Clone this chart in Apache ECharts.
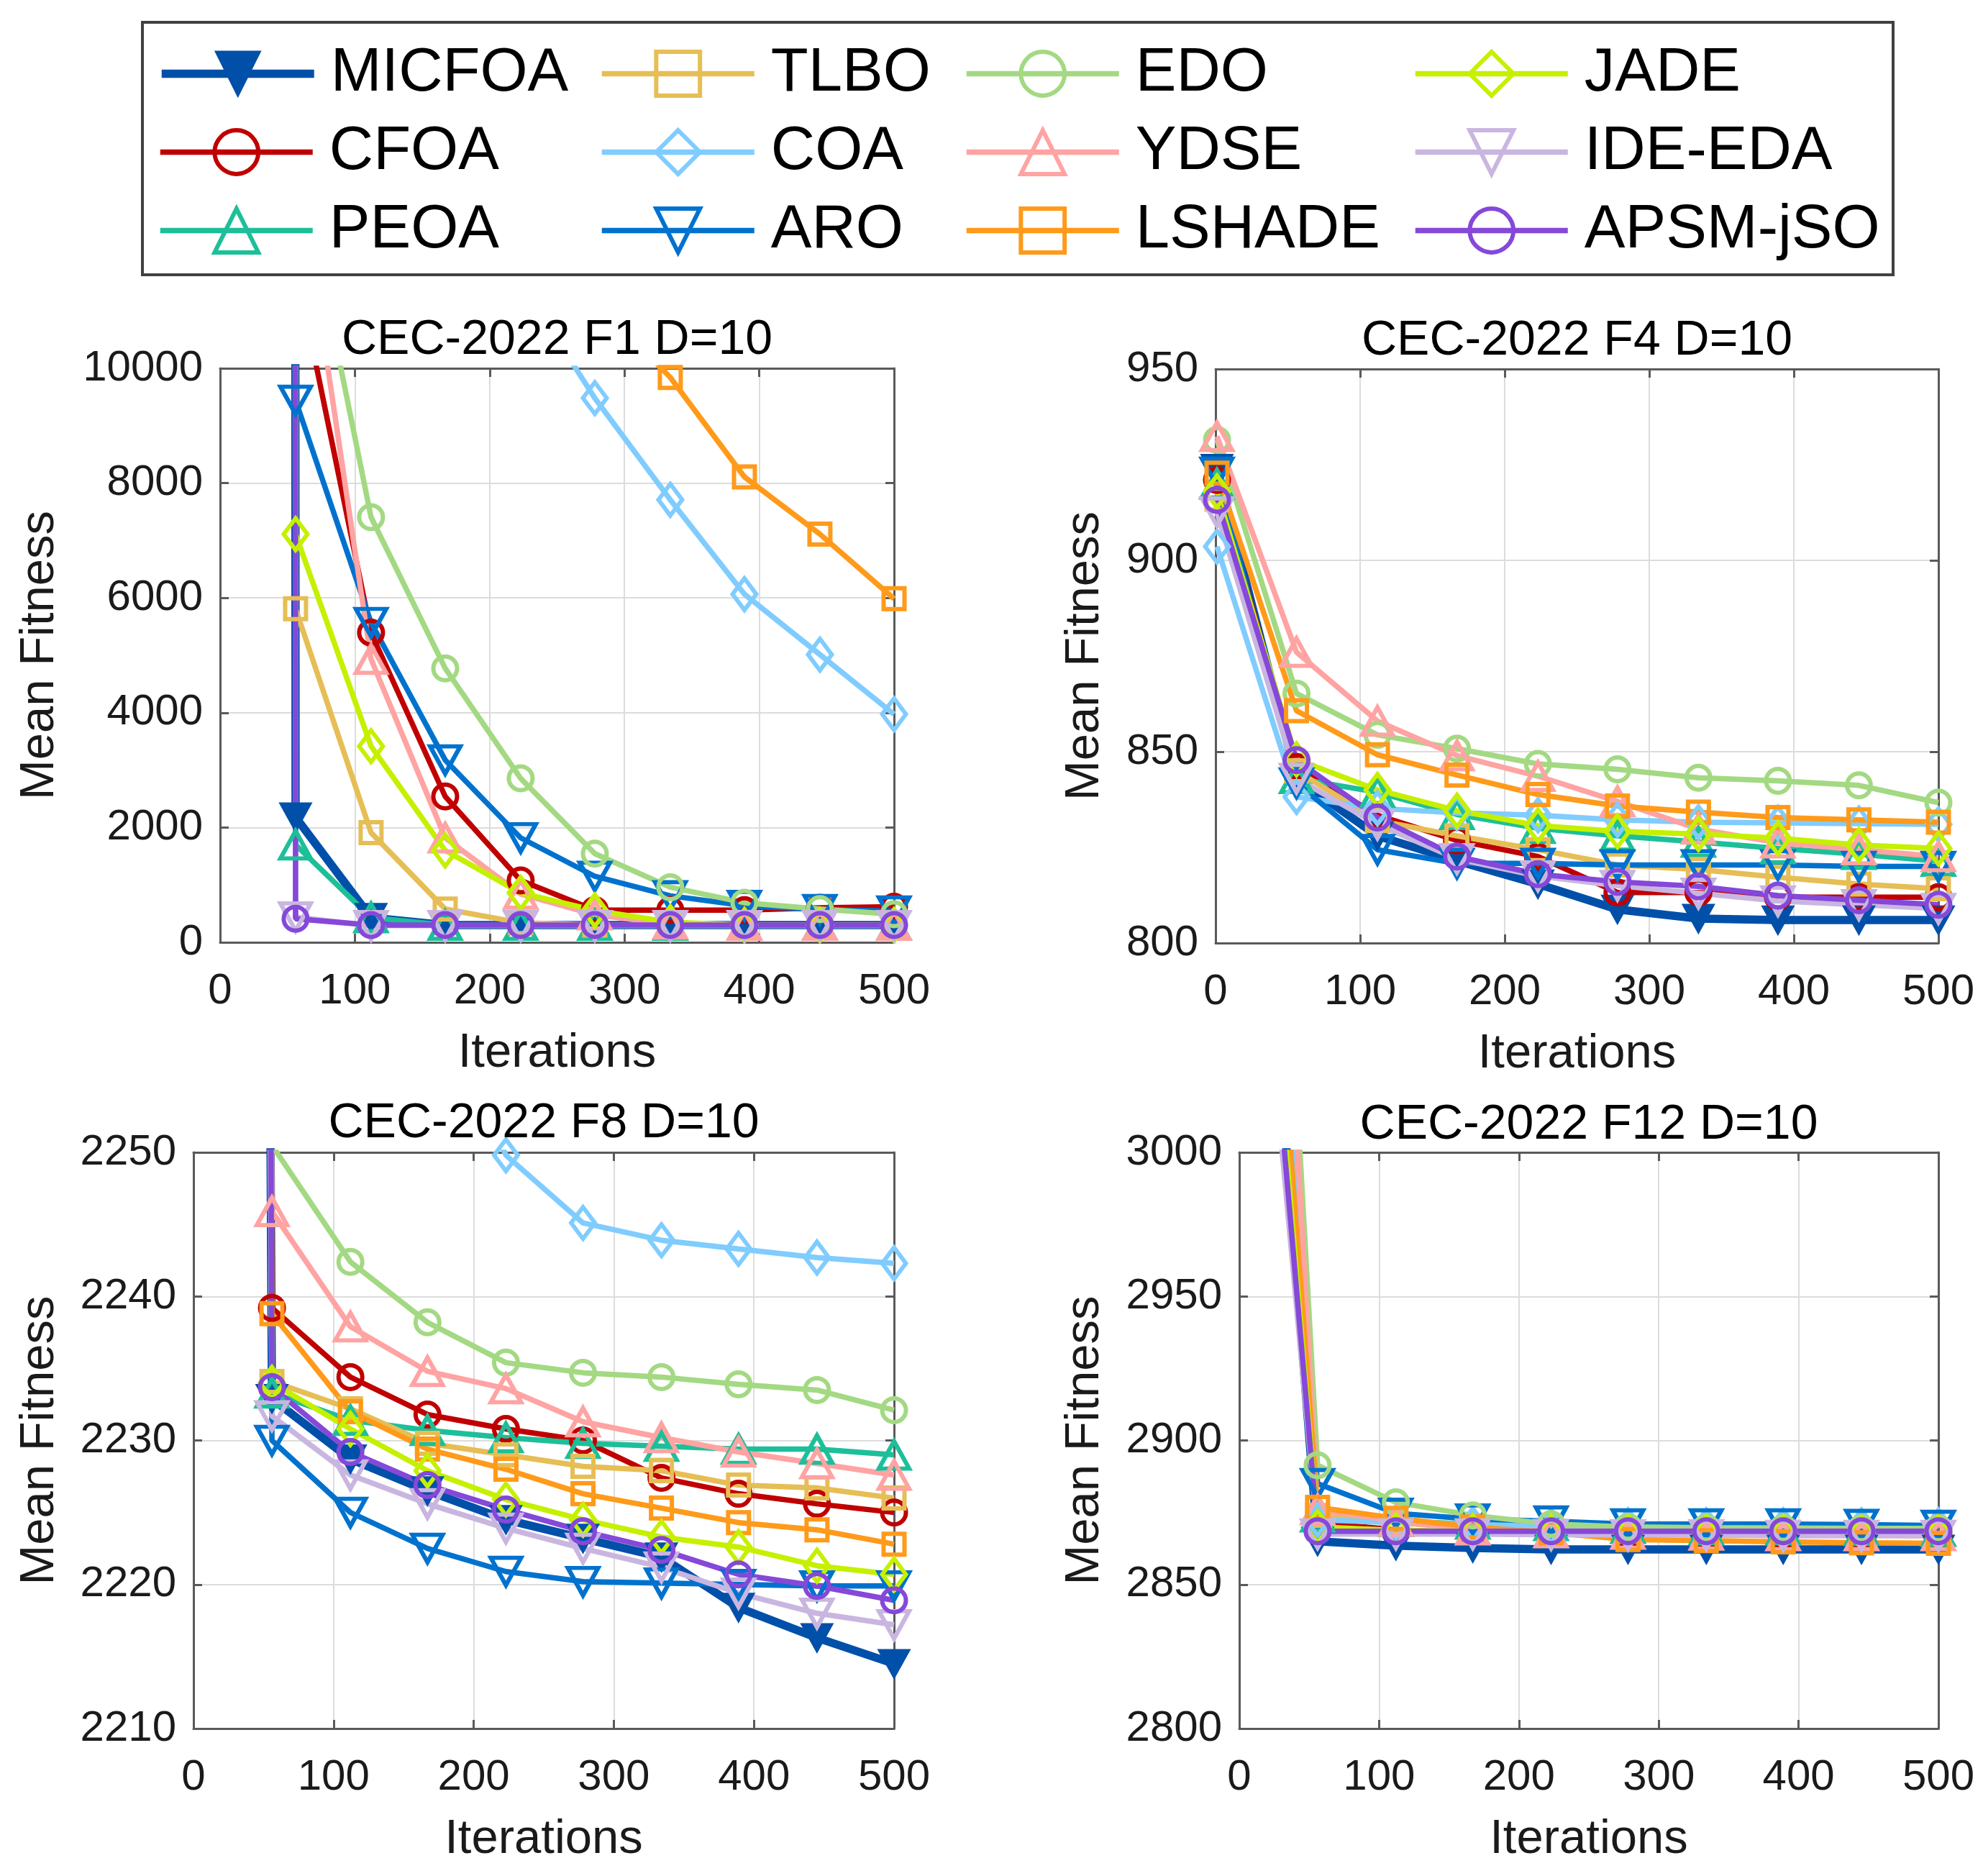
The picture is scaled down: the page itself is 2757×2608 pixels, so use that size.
<!DOCTYPE html>
<html><head><meta charset="utf-8">
<script src="https://cdn.jsdelivr.net/npm/echarts@6/dist/echarts.min.js"></script>
<style>html,body{margin:0;padding:0;background:#fff}#c{width:2757px;height:2608px}</style>
</head><body><div id="c"></div>
<script>
// ---------------- data ----------------
const names = ['MICFOA','CFOA','PEOA','TLBO','COA','ARO','EDO','YDSE','LSHADE','JADE','IDE-EDA','APSM-jSO'];
const iters = [1, 56, 112, 167, 223, 278, 334, 389, 445, 500];
const xTicks = [0, 100, 200, 300, 400, 500];

// CEC-2022 F1 (order as names)
const F1 = [
  [2.6e6, 2180, 430, 300, 300, 300, 300, 300, 300, 300],
  [3.1e6, 11800, 5395, 2540, 1077, 560, 560, 560, 600, 620],
  [2.4e6, 1700, 430, 300, 300, 300, 300, 300, 300, 300],
  [2.9e6, 5810, 1910, 580, 340, 300, 300, 300, 300, 300],
  [3.4e6, 20500, 16300, 13700, 11500, 9481, 7709, 6065, 5012, 3974],
  [2.8e6, 9441, 5570, 3176, 1820, 1150, 810, 640, 570, 545],
  [3.3e6, 13900, 7406, 4772, 2857, 1545, 960, 690, 580, 490],
  [3.2e6, 13800, 4932, 1820, 840, 480, 320, 300, 300, 300],
  [3.6e6, 20000, 16500, 14000, 12300, 11200, 9840, 8109, 7111, 5986],
  [3.0e6, 7111, 3416, 1600, 860, 555, 350, 300, 300, 300],
  [2.7e6, 440, 290, 290, 290, 290, 290, 290, 290, 290],
  [3.5e6, 410, 300, 300, 300, 300, 300, 300, 300, 300]
];
// CEC-2022 F4
const F4 = [
  [924, 843, 828, 821.5, 815.4, 808.8, 806.4, 806, 806, 806],
  [921, 846, 833.4, 826.8, 822.6, 813.2, 813.2, 812, 812, 812],
  [920, 843, 839.4, 833.6, 830, 828, 826.4, 824.7, 823.2, 821.4],
  [916, 845, 832, 828, 824.4, 820.4, 819.2, 817.2, 815.4, 814.2],
  [903.6, 838.2, 835.2, 834, 833.4, 832.2, 831.6, 831.4, 831.2, 831],
  [923, 841.8, 824.4, 820.8, 820.8, 820.4, 820.4, 820.4, 820, 820],
  [931.5, 865.2, 854.4, 850.8, 846.8, 845.4, 843.2, 842.4, 841.2, 836.7],
  [932.4, 876, 858, 849, 843.6, 837, 829.8, 826.2, 824.4, 822.6],
  [922.8, 860.7, 849.2, 843.9, 838.8, 835.8, 834.2, 832.8, 832.2, 831.6],
  [918, 848, 840, 834.6, 830.7, 829.2, 828.5, 827.4, 825.6, 824.7],
  [912.6, 843, 831, 822, 817.5, 815, 813, 811, 810, 809],
  [915.8, 847.8, 832.8, 822.6, 818, 816, 814.8, 812.4, 811.2, 810]
];
// CEC-2022 F8
const F8 = [
  [3200, 2232.9, 2228.7, 2226.5, 2224.5, 2223.2, 2221.9, 2218.4, 2216.3, 2214.5],
  [3300, 2239.2, 2234.4, 2231.8, 2230.8, 2230.0, 2227.4, 2226.3, 2225.6, 2225.0],
  [3100, 2233.3, 2231.4, 2230.7, 2230.2, 2229.8, 2229.6, 2229.4, 2229.4, 2229.0],
  [3150, 2234.1, 2232.2, 2229.8, 2229.0, 2228.2, 2227.9, 2226.9, 2226.7, 2226.0],
  [3600, 2290, 2275, 2262, 2249.8, 2245.1, 2243.9, 2243.3, 2242.7, 2242.3],
  [3250, 2230.0, 2225.0, 2222.5, 2220.9, 2220.2, 2220.1, 2220.0, 2219.9, 2219.9],
  [3400, 2250.5, 2242.4, 2238.2, 2235.4, 2234.7, 2234.4, 2233.9, 2233.5, 2232.1],
  [3350, 2245.9, 2237.9, 2234.8, 2233.6, 2231.3, 2230.2, 2229.2, 2228.4, 2227.6],
  [3300, 2238.8, 2232.0, 2229.4, 2228.0, 2226.3, 2225.3, 2224.3, 2223.8, 2222.8],
  [3200, 2234.0, 2230.8, 2227.9, 2225.9, 2224.5, 2223.3, 2222.6, 2221.3, 2220.7],
  [3150, 2231.7, 2227.6, 2225.6, 2223.9, 2222.5, 2221.2, 2219.4, 2218.0, 2217.2],
  [3500, 2233.7, 2229.2, 2226.9, 2225.2, 2223.7, 2222.4, 2220.7, 2219.9, 2218.9]
];
// CEC-2022 F12
const F12 = [
  [3200, 2865, 2863.5, 2862.7, 2862.2, 2862.2, 2862.2, 2862.2, 2862.2, 2862.2],
  [3205, 2871.5, 2869, 2868, 2867.5, 2867.5, 2867.3, 2867.2, 2867.2, 2867],
  [3208, 2873.5, 2872, 2871, 2870.5, 2869.5, 2869, 2869, 2868.8, 2868.5],
  [3220, 2874, 2871.5, 2869.5, 2869, 2869, 2869, 2869, 2869, 2869],
  [3300, 2872.5, 2871.5, 2871, 2870.5, 2870.5, 2870.5, 2870.5, 2870.5, 2870.5],
  [3199, 2885, 2874.7, 2872.7, 2872, 2871, 2871, 2871, 2870.8, 2870.5],
  [3366, 2891.4, 2878.5, 2874, 2871, 2870, 2869.7, 2869.6, 2869.5, 2869.5],
  [3356, 2876, 2872, 2869, 2868, 2867.5, 2867.2, 2867, 2867, 2867],
  [3230, 2876.8, 2873, 2870, 2868, 2865.6, 2865.2, 2864.8, 2864.5, 2864.3],
  [3191, 2870, 2868.8, 2868.5, 2868.3, 2868.2, 2868.2, 2868.1, 2868, 2868],
  [3156, 2867.5, 2867.5, 2867.5, 2867.3, 2867.2, 2867.2, 2867, 2867, 2867],
  [3175, 2868.5, 2868.5, 2868.5, 2868.5, 2868.5, 2868.5, 2868.5, 2868.5, 2868.5]
];

// ---------------- styles ----------------
const FONT = "'Liberation Sans', Arial, Helvetica, sans-serif";
const AX = '#5a5a5a';
const GRIDC = '#dcdcdc';
const DOWN = 'path://M0,0L10,0L5,8.66Z';
const colors = ['#0050AA','#C00000','#1DBF99','#E6BE55','#80CCFF','#0072CE','#A3D982','#FFA3A3','#FF9A1A','#C5F000','#C9B6E0','#8548D9'];
const LW = 7.5, MW = 11.5, BW = 6;
const sty = [
  {symbol: DOWN, size: [42, 38], filled: true, width: MW},
  {symbol: 'circle', size: 33, width: LW},
  {symbol: 'triangle', size: [42, 38], width: LW},
  {symbol: 'rect', size: 29, width: LW},
  {symbol: 'diamond', size: [33, 44], width: LW},
  {symbol: DOWN, size: [42, 38], width: LW},
  {symbol: 'circle', size: 33, width: LW},
  {symbol: 'triangle', size: [42, 38], width: LW},
  {symbol: 'rect', size: 29, width: LW},
  {symbol: 'diamond', size: [33, 44], width: LW},
  {symbol: DOWN, size: [42, 38], width: LW},
  {symbol: 'circle', size: 33, width: LW}
];

const panels = [
  {title: 'CEC-2022 F1 D=10', data: F1, yMin: 0, yMax: 10000, yInt: 2000, left: 306, top: 512, width: 937, height: 798, nameGap: 217, titleY: 473},
  {title: 'CEC-2022 F4 D=10', data: F4, yMin: 800, yMax: 950, yInt: 50, left: 1690, top: 513, width: 1005, height: 798, nameGap: 148, titleY: 474},
  {title: 'CEC-2022 F8 D=10', data: F8, yMin: 2210, yMax: 2250, yInt: 10, left: 269, top: 1602, width: 974, height: 801, nameGap: 180, titleY: 1562},
  {title: 'CEC-2022 F12 D=10', data: F12, yMin: 2800, yMax: 3000, yInt: 50, left: 1723, top: 1602, width: 972, height: 801, nameGap: 181, titleY: 1564}
];

const option = {animation: false, backgroundColor: '#fff', title: [], grid: [], xAxis: [], yAxis: [], series: [], legend: [], graphic: []};

const axLine = {show: true, onZero: false, lineStyle: {color: AX, width: 3}};
const tick = {show: true, inside: true, length: 12, lineStyle: {color: AX, width: 3}};
const split = {show: true, lineStyle: {color: GRIDC, width: 2}};
const lblStyle = {fontSize: 60, color: '#1a1a1a', fontFamily: FONT};
const nameStyle = {fontSize: 67, color: '#1a1a1a', fontFamily: FONT};

panels.forEach((p, g) => {
  option.title.push({text: p.title, left: p.left + p.width / 2, top: p.titleY, textAlign: 'center', textVerticalAlign: 'middle', padding: 0,
    textStyle: {fontSize: 68, fontWeight: 'normal', color: '#000', fontFamily: FONT}});
  option.grid.push({left: p.left, top: p.top, width: p.width, height: p.height, containLabel: false, outerBoundsMode: 'none', show: false});
  option.xAxis.push({type: 'value', gridIndex: g, min: xTicks[0], max: xTicks[xTicks.length - 1], interval: xTicks[1] - xTicks[0], position: 'bottom',
    axisLine: axLine, axisTick: tick, splitLine: split,
    axisLabel: Object.assign({margin: 38, formatter: v => String(v)}, lblStyle),
    name: 'Iterations', nameLocation: 'middle', nameGap: 121, nameTextStyle: nameStyle});
  option.xAxis.push({type: 'value', gridIndex: g, min: xTicks[0], max: xTicks[xTicks.length - 1], interval: xTicks[1] - xTicks[0], position: 'top',
    axisLine: axLine, axisTick: tick, splitLine: {show: false}, axisLabel: {show: false}});
  option.yAxis.push({type: 'value', gridIndex: g, min: p.yMin, max: p.yMax, interval: p.yInt, position: 'left',
    axisLine: axLine, axisTick: tick, splitLine: split,
    axisLabel: Object.assign({margin: 24, formatter: v => String(v)}, lblStyle),
    name: 'Mean Fitness', nameLocation: 'middle', nameRotate: 90, nameGap: p.nameGap, nameTextStyle: nameStyle});
  option.yAxis.push({type: 'value', gridIndex: g, min: p.yMin, max: p.yMax, interval: p.yInt, position: 'right',
    axisLine: axLine, axisTick: tick, splitLine: {show: false}, axisLabel: {show: false}});
  p.data.forEach((vals, k) => {
    const s = sty[k], c = colors[k];
    option.series.push({
      type: 'line', name: names[k], xAxisIndex: 2 * g, yAxisIndex: 2 * g,
      data: iters.map((x, i) => [x, vals[i]]),
      symbol: s.symbol, symbolSize: s.size, showAllSymbol: true, clip: true,
      lineStyle: {color: c, width: s.width},
      itemStyle: {color: s.filled ? c : 'none', borderColor: c, borderWidth: s.filled ? 3 : BW},
      emphasis: {disabled: true}, silent: true
    });
  });
});

// legend: 3 rows x 4 columns, column-major
const legCols = [219, 833, 1340, 1964];
const legRows = [100, 209, 318];
names.forEach((n, k) => {
  const col = Math.floor(k / 3), row = k % 3, s = sty[k], c = colors[k];
  option.legend.push({
    show: true, left: legCols[col], top: legRows[row] - 40, orient: 'horizontal', padding: 0, itemGap: 0,
    itemWidth: 212, itemHeight: 76, selectedMode: false, data: [n],
    textStyle: {fontSize: 85, color: '#000', fontFamily: FONT, padding: [0, 0, 0, 18]},
    itemStyle: {color: s.filled ? c : 'none', borderColor: c, borderWidth: s.filled ? 3 : BW},
    lineStyle: {color: c, width: s.width}
  });
});
option.graphic.push({type: 'rect', shape: {x: 198, y: 31, width: 2434, height: 351}, style: {fill: 'none', stroke: '#404040', lineWidth: 4}, silent: true});

const chart = echarts.init(document.getElementById('c'), null, {renderer: 'canvas'});
chart.setOption(option);
</script>
</body></html>
